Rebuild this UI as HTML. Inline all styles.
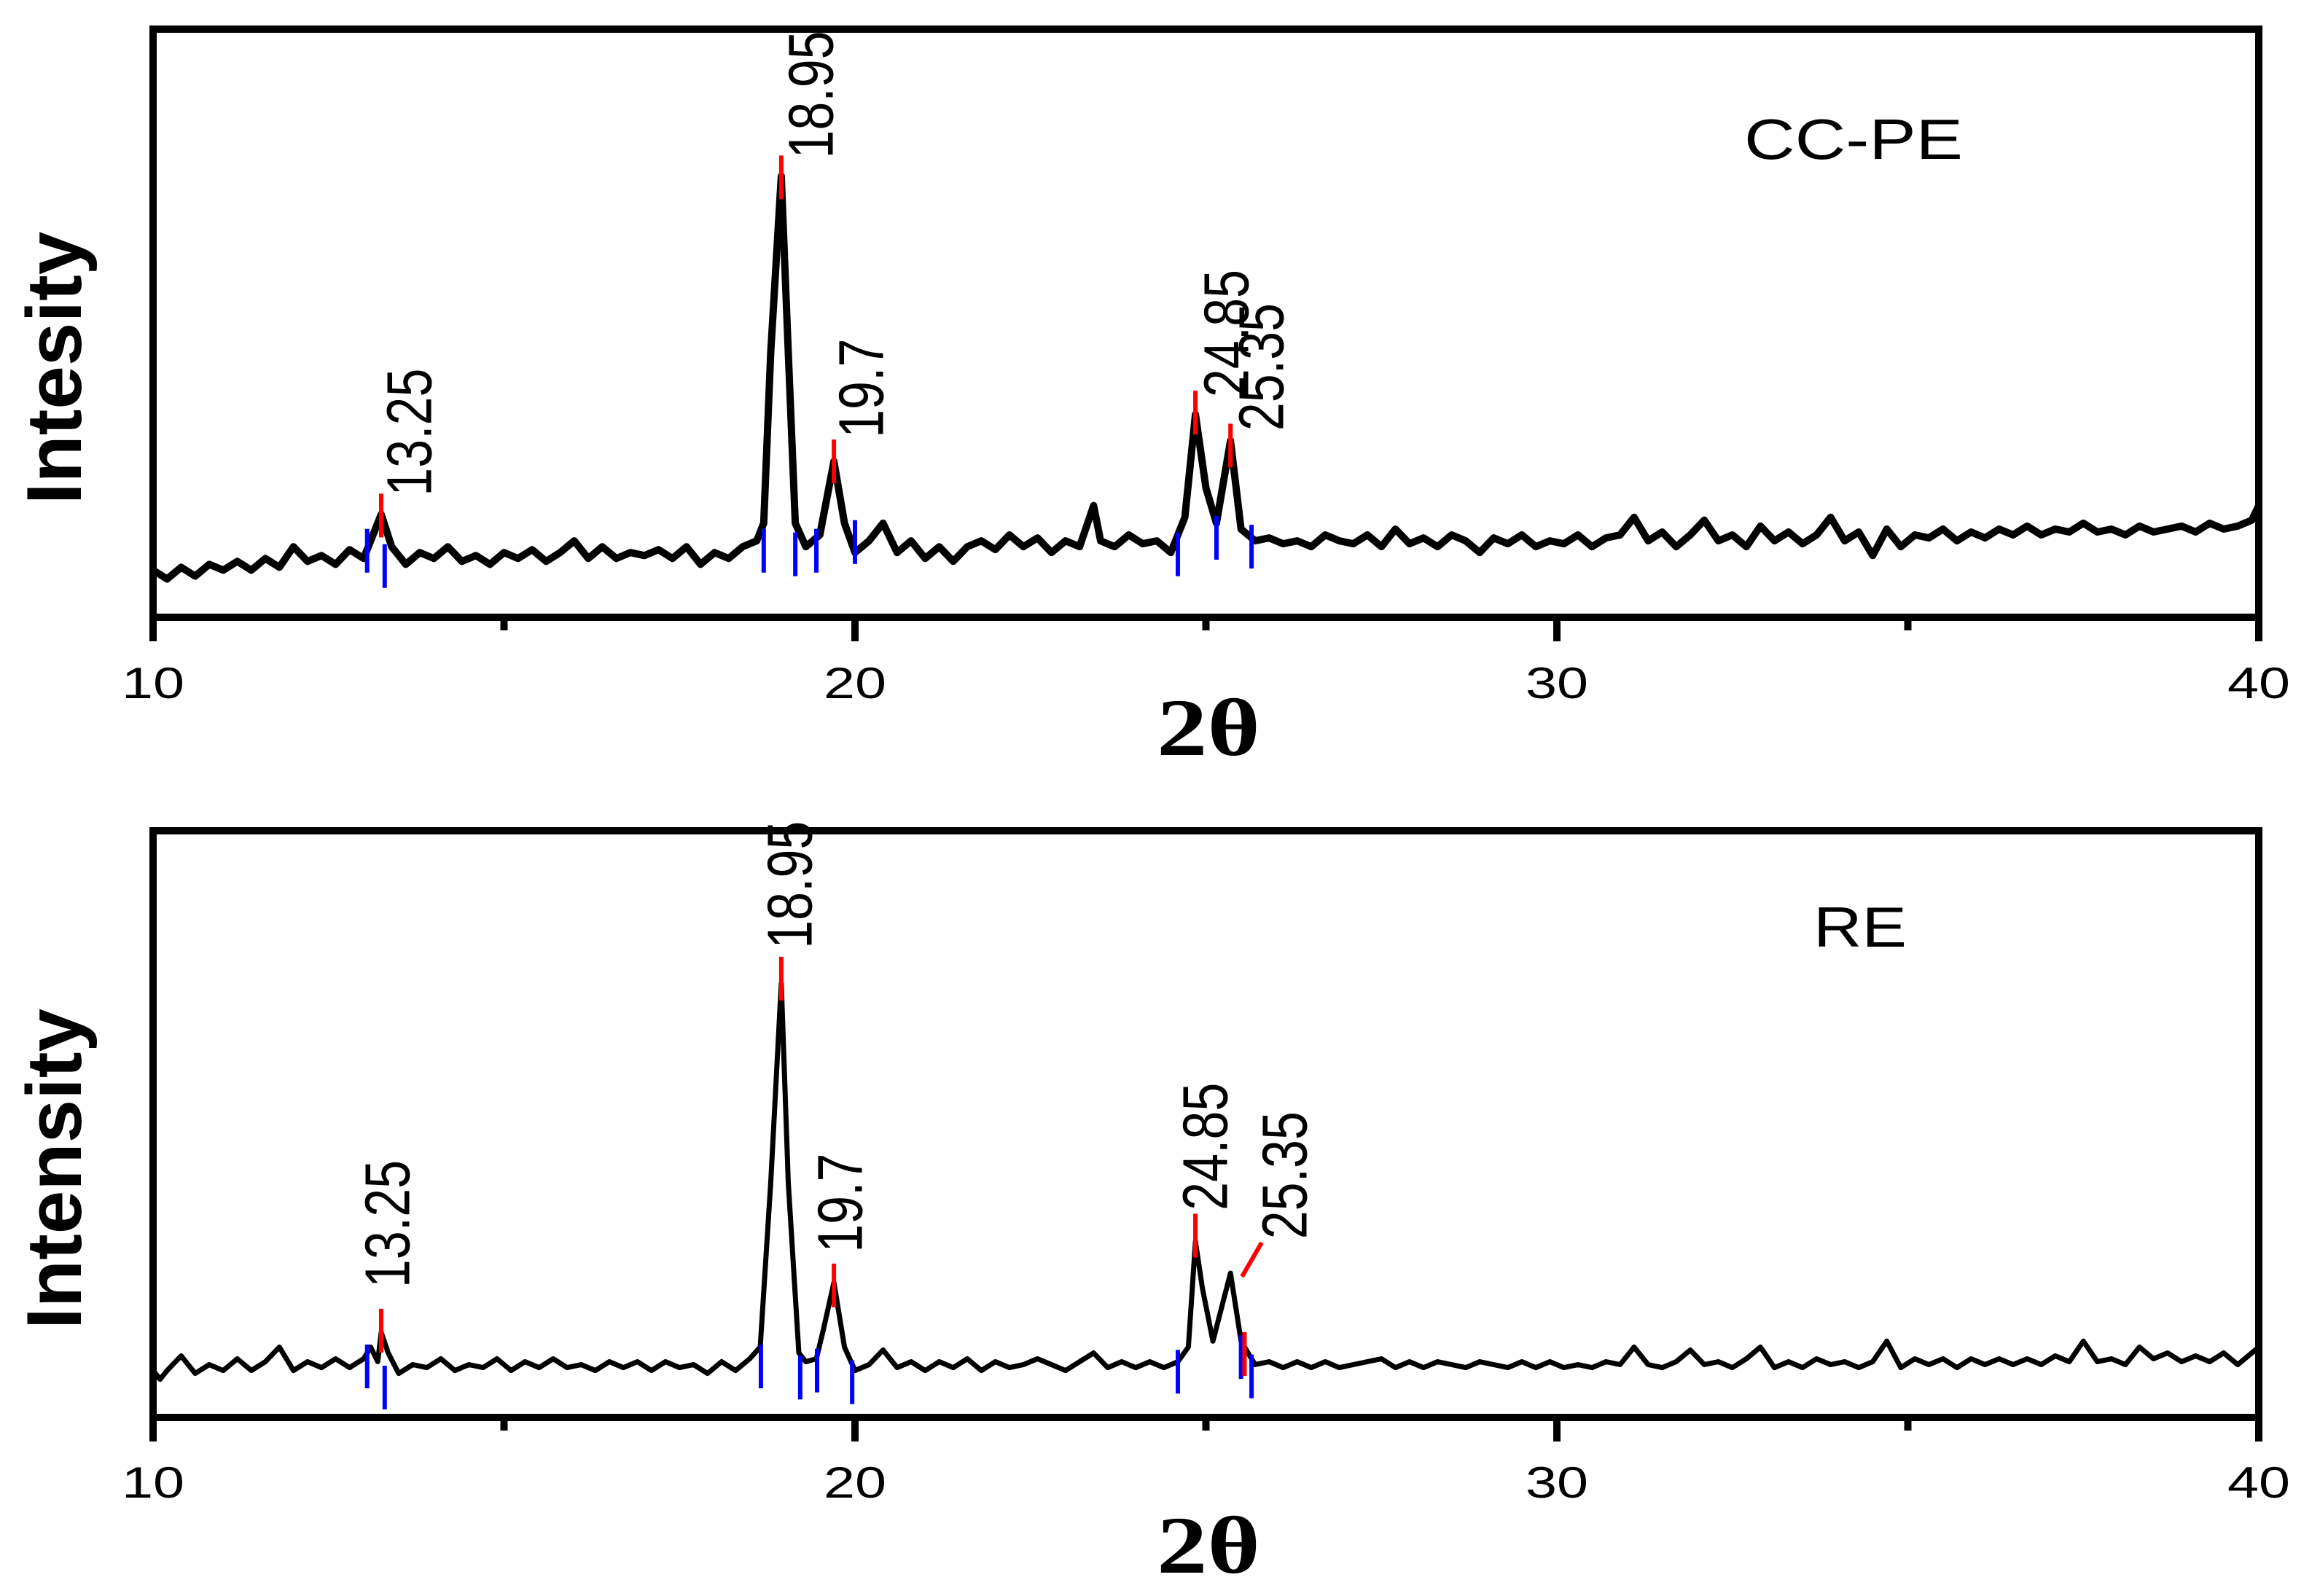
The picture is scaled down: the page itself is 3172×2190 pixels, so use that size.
<!DOCTYPE html>
<html><head><meta charset="utf-8"><style>
html,body{margin:0;padding:0;background:#fff;}
svg{display:block;}
</style></head><body>
<svg id="chart" width="3172" height="2190" viewBox="0 0 3172 2190" xmlns="http://www.w3.org/2000/svg" font-family="Liberation Sans, sans-serif"></svg>
<script>
// ---- data ----
const xTicks = [10, 20, 30, 40];
const xMinorTicks = [15, 25, 35];
// top panel (CC-PE)
const topX = [10.0,10.2,10.4,10.6,10.8,11.0,11.2,11.4,11.6,11.8,12.0,12.2,12.4,12.6,12.8,13.0,13.1,13.25,13.4,13.6,13.8,14.0,14.2,14.4,14.6,14.8,15.0,15.2,15.4,15.6,15.8,16.0,16.2,16.4,16.6,16.8,17.0,17.2,17.4,17.6,17.8,18.0,18.2,18.4,18.6,18.7,18.8,18.95,19.05,19.15,19.3,19.5,19.7,19.85,20.0,20.2,20.4,20.6,20.8,21.0,21.2,21.4,21.6,21.8,22.0,22.2,22.4,22.6,22.8,23.0,23.2,23.4,23.5,23.7,23.9,24.1,24.3,24.5,24.7,24.85,25.0,25.15,25.35,25.5,25.7,25.9,26.1,26.3,26.5,26.7,26.9,27.1,27.3,27.5,27.7,27.9,28.1,28.3,28.5,28.7,28.9,29.1,29.3,29.5,29.7,29.9,30.1,30.3,30.5,30.7,30.9,31.1,31.3,31.5,31.7,31.9,32.1,32.3,32.5,32.7,32.9,33.1,33.3,33.5,33.7,33.9,34.1,34.3,34.5,34.7,34.9,35.1,35.3,35.5,35.7,35.9,36.1,36.3,36.5,36.7,36.9,37.1,37.3,37.5,37.7,37.9,38.1,38.3,38.5,38.7,38.9,39.1,39.3,39.5,39.7,39.9,40.0];
const topY = [8,6.5,8.5,7,9,8,9.5,8,10,8.5,12,9.5,10.5,9,11.5,10,13,17.5,12,9,11,10,12,9.5,10.5,9,11,10,11.5,9.5,11,13,10,12,10,11,10.5,11.5,10,12,9,11,10,12,13,16,45,75,45,16,12,14,26.5,16,11,13,16,11,13,10,12,9.5,12,13,11.5,14,12,13.5,11,13,12,19,13,12,14,12.5,13,11,17,34.5,22,16,30,15,13,13.5,12.5,13,12,14,13,12.5,14,12,15,12.5,13.5,12,14,13,11,13.5,12.5,14,12,13,12.5,14,12,13.5,14,17,13,14.5,12,14,16.5,13,14,12,15.5,13,14.5,12.5,14,17,13,14.5,10.5,15,12,14,13.5,15,13,14.5,13.5,15,14,15.5,14,15,14.5,16,14.5,15,14,15.5,14.5,15,15.5,14.5,16,15,15.5,16.5,19];
// bottom panel (RE)
const botX = [10.0,10.1,10.2,10.4,10.6,10.8,11.0,11.2,11.4,11.6,11.8,12.0,12.2,12.4,12.6,12.8,13.0,13.1,13.2,13.25,13.35,13.5,13.7,13.9,14.1,14.3,14.5,14.7,14.9,15.1,15.3,15.5,15.7,15.9,16.1,16.3,16.5,16.7,16.9,17.1,17.3,17.5,17.7,17.9,18.1,18.3,18.5,18.65,18.8,18.95,19.05,19.2,19.3,19.45,19.55,19.7,19.85,20.0,20.2,20.4,20.6,20.8,21.0,21.2,21.4,21.6,21.8,22.0,22.2,22.4,22.6,22.8,23.0,23.2,23.4,23.6,23.8,24.0,24.2,24.4,24.6,24.75,24.85,24.95,25.1,25.25,25.35,25.5,25.7,25.9,26.1,26.3,26.5,26.7,26.9,27.1,27.3,27.5,27.7,27.9,28.1,28.3,28.5,28.7,28.9,29.1,29.3,29.5,29.7,29.9,30.1,30.3,30.5,30.7,30.9,31.1,31.3,31.5,31.7,31.9,32.1,32.3,32.5,32.7,32.9,33.1,33.3,33.5,33.7,33.9,34.1,34.3,34.5,34.7,34.9,35.1,35.3,35.5,35.7,35.9,36.1,36.3,36.5,36.7,36.9,37.1,37.3,37.5,37.7,37.9,38.1,38.3,38.5,38.7,38.9,39.1,39.3,39.5,39.7,39.9,40.0];
const botY = [8,6.5,8,10.5,7.5,9,8,10,8,9.5,12,8,9.5,8.5,10,8.5,10,12,9.5,14.5,11,7.5,9,8.5,10,8,9,8.5,10,8,9.5,8.5,10,8.5,9,8,9.5,8.5,9.5,8,9.5,8.5,9,7.5,9.5,8,10,12,40,74,40,11,9.5,10,15,23,12,8,9,11.5,8.5,9.5,8,9.5,8.5,10,8,9.5,8.5,9,10,9,8,9.5,11,8.5,9.5,8.5,9.5,8.5,9.5,12,30,22,13,20,24.6,13,9,9.5,8.5,9.5,8.5,9.5,8.5,9,9.5,10,8.5,9.5,8.5,9.5,9,8.5,9.5,9,8.5,9.5,8.5,9.5,8.5,9,8.5,9.5,9,12,9,8.5,9.5,11.5,9,9.5,8.5,10,12,8.5,9.5,8.5,10,9,9.5,8.5,9.5,13,8.5,10,9,10,8.5,10,9,10,9,10,9,10.5,9.5,13,9.5,10,9,12,10,11,9.5,10.5,9.5,11,9,11,12];
// peak markers
const topRedX = [13.25,18.95,19.7,24.85,25.35];
const topRedY = [17.3,74.8,26.5,34.8,29.2];
const topBlueX = [13.05,13.3,18.7,19.15,19.45,20.0,24.6,25.15,25.65];
const topBlueY = [11.3,8.7,11.3,10.7,11.3,12.8,10.7,13.5,12];
const botRedX = [13.25,18.95,19.7,24.85,25.55];
const botRedY = [14.8,74.8,22.5,31,10.8];
const botBlueX = [13.05,13.3,18.66,19.22,19.46,19.96,24.6,25.5,25.65];
const botBlueY = [8.7,5.1,8.7,6.8,8,6,7.8,10.3,7];
// peak labels
const topLabels = ["13.25","18.95","19.7","24.85","25.35"];
const topLabelX = [13.66,19.38,20.1,25.3,25.8];
const topLabelY = [20.6,78,30.5,37.4,31.7];
const botLabels = ["13.25","18.95","19.7","24.85","25.35"];
const botLabelX = [13.35,19.08,19.8,25.0,26.13];
const botLabelY = [22.1,79.9,28.1,35.3,30.4];

const NS = "http://www.w3.org/2000/svg";
const svg = document.getElementById('chart');
function mk(tag, attrs, parent){
  const e = document.createElementNS(NS, tag);
  for (const k in attrs) e.setAttribute(k, attrs[k]);
  (parent||svg).appendChild(e);
  return e;
}

function drawPanel(p){
  const g = mk('g', {});
  
  
  const X0 = 210, X1 = 3099;
  const sx = v => X0 + (v - 10) / 30 * (X1 - X0);
  const sy = v => p.bottom - v / 100 * (p.bottom - p.top);

  let d = '';
  for (let i = 0; i < p.xs.length; i++) d += (i ? 'L' : 'M') + sx(p.xs[i]).toFixed(1) + ',' + sy(p.ys[i]).toFixed(1);
  const line = mk('path', {d: d, fill: 'none', stroke: '#000', 'stroke-width': p.lw, 'stroke-linejoin': 'round'}, g);
  
  

  for (let i = 0; i < p.bx.length; i++) {
    const b = mk('line', {x1: sx(p.bx[i]), x2: sx(p.bx[i]), y1: sy(p.by[i]) - 30, y2: sy(p.by[i]) + 30, stroke: '#0000ff', 'stroke-width': 6}, g);
    
    
  }
  for (let i = 0; i < p.rx.length; i++) {
    const r = mk('line', {x1: sx(p.rx[i]), x2: sx(p.rx[i]), y1: sy(p.ry[i]) - 30, y2: sy(p.ry[i]) + 30, stroke: '#ff0000', 'stroke-width': 6}, g);
    
    
  }
  if (p.leader) {
    const l = mk('line', {x1: 1704, y1: sy(p.leader[0]), x2: 1731, y2: sy(p.leader[1]), stroke: '#ff0000', 'stroke-width': 6}, g);
    
    
  }
  for (let i = 0; i < p.labels.length; i++) {
    const x = sx(p.lx[i]) + 29, y = sy(p.ly[i]);
    const t = mk('text', {transform: 'translate(' + x + ',' + y + ') rotate(-90) scale(1,1.25)', 'font-size': 70, fill: '#000'}, g);
    t.textContent = p.labels[i];
    
    
  }

  const fr = mk('rect', {x: X0, y: p.top, width: X1 - X0, height: p.bottom - p.top, fill: 'none', stroke: '#000', 'stroke-width': 10}, g);
  
  

  for (const v of xTicks) {
    const tk = mk('line', {x1: sx(v), x2: sx(v), y1: p.bottom, y2: p.bottom + 33, stroke: '#000', 'stroke-width': 10}, g);
    
    
    const tl = mk('text', {x: sx(v), y: p.tickBase, 'font-size': 60, 'text-anchor': 'middle', textLength: 86, lengthAdjust: 'spacingAndGlyphs', fill: '#000'}, g);
    tl.textContent = String(v);
    
    
  }
  for (const v of xMinorTicks) {
    const tk = mk('line', {x1: sx(v), x2: sx(v), y1: p.bottom, y2: p.bottom + 18, stroke: '#000', 'stroke-width': 10}, g);
    
    
  }

  const xt = mk('text', {x: 1658, y: p.xTitleBase, 'font-size': 112, 'font-weight': 'bold', 'font-family': 'Liberation Serif, serif', 'text-anchor': 'middle', textLength: 142, lengthAdjust: 'spacingAndGlyphs', fill: '#000'}, g);
  xt.textContent = '2θ';
  
  
  const yt = mk('text', {transform: 'translate(111,' + p.yTitleMid + ') rotate(-90)', 'font-size': 107, 'font-weight': 'bold', 'text-anchor': 'middle', fill: '#000'}, g);
  yt.textContent = p.yTitle;
  
  

  const st = mk('text', {x: p.sampleX, y: p.sampleBase, 'font-size': 78, textLength: p.sampleLen, lengthAdjust: 'spacingAndGlyphs', fill: '#000'}, g);
  st.textContent = p.sample;
  
  
}

drawPanel({name: 'cc-pe', top: 40, bottom: 847, xs: topX, ys: topY, lw: 10,
  rx: topRedX, ry: topRedY, bx: topBlueX, by: topBlueY,
  labels: topLabels, lx: topLabelX, ly: topLabelY,
  tickBase: 958, xTitleBase: 1036, yTitleMid: 505, yTitle: 'Intesity',
  sample: 'CC-PE', sampleX: 2393, sampleBase: 218, sampleLen: 300});
drawPanel({name: 're', top: 1140, bottom: 1945, xs: botX, ys: botY, lw: 7,
  rx: botRedX, ry: botRedY, bx: botBlueX, by: botBlueY,
  labels: botLabels, lx: botLabelX, ly: botLabelY, leader: [24, 29.8],
  tickBase: 2055, xTitleBase: 2158, yTitleMid: 1604, yTitle: 'Intensity',
  sample: 'RE', sampleX: 2488, sampleBase: 1299, sampleLen: 128});
</script>
</body></html>
